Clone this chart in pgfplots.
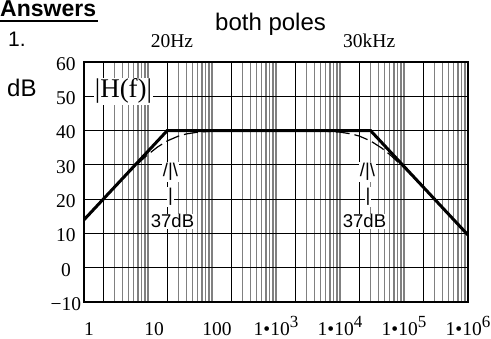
\documentclass[border=0pt]{standalone}
\usepackage{fontspec}
\setmainfont{Liberation Serif}
\newfontfamily\arial{Liberation Sans}
\usepackage{pgfplots}
\pgfplotsset{compat=1.18}
\newcommand\sups[1]{\raisebox{8bp}{\fontsize{17bp}{17bp}\selectfont #1}}
\begin{document}
\begin{tikzpicture}
\path[use as bounding box] (-84bp,-37bp) rectangle (407bp,302bp);
\begin{axis}[
  at={(0,0)}, anchor=south west, scale only axis,
  width=384bp, height=240bp,
  xmode=log, xmin=1, xmax=1e6, ymin=-10, ymax=60,
  axis line style={line width=1.6bp},
  major tick length=0pt, minor tick length=0pt,
  xtick={1,10,100,1000,10000,100000,1000000},
  xticklabels={\hspace*{10bp}1, \hspace*{12bp}10, \hspace*{10bp}100, 1•10\sups{3}, 1•10\sups{4}, 1•10\sups{5}, 1•10\sups{6}},
  xticklabel style={anchor=base, inner sep=0pt, yshift=-33bp, font=\fontsize{19.5bp}{19.5bp}\selectfont},
  ytick={-10,0,10,20,30,40,50,60},
  yticklabels={−10,0,10,20,30,40,50,60},
  yticklabel style={anchor=center, xshift=-18bp, yshift=-2bp, font=\fontsize{19.5bp}{19.5bp}\selectfont},
  ymajorgrids=true, xmajorgrids=false,
  major grid style={black, line width=0.8bp},
  minor xtick={3,4,5,6,7,8,9,10,30,40,50,60,70,80,90,100,300,400,500,600,700,800,900,1000,3000,4000,5000,6000,7000,8000,9000,10000,30000,40000,50000,60000,70000,80000,90000,100000,300000,400000,500000,600000,700000,800000,900000},
  xminorgrids=true,
  minor grid style={black!50, line width=1.2bp},
  extra x ticks={2,20,200,2000,20000,200000},
  extra x tick labels={},
  extra x tick style={grid=major},
]
\addplot[black, line width=3bp] coordinates {(1,13.98) (20,40) (30000,40) (1000000,9.54)};
\addplot[black, line width=1.2bp, dash pattern=on 14bp off 5bp] coordinates {
(1,13.97) (2,19.96) (4,25.85) (6,29.17) (8,31.40) (10,33.01) (14,35.17) (20,36.99) (30,38.40) (40,39.03) (60,39.54) (100,39.83) (200,39.96) (1000,40) (5000,39.88) (10000,39.54) (15000,39.03) (20000,38.40) (30000,36.99) (45000,34.88) (60000,33.01) (100000,29.17) (200000,23.43) (500000,15.55) (1000000,9.54)};
\end{axis}
\node[anchor=base west, inner sep=0, font=\arial\bfseries\fontsize{23bp}{23bp}\selectfont] at (-84bp,285bp) {Answers};
\draw[line width=2bp] (-84bp,281bp) -- (14bp,281bp);
\node[anchor=base west, inner sep=0, font=\arial\fontsize{21bp}{21bp}\selectfont] at (-76bp,255bp) {1.};
\node[anchor=base west, inner sep=0, font=\arial\fontsize{24bp}{24bp}\selectfont] at (-77bp,205bp) {dB};
\node[anchor=base, inner sep=0, font=\fontsize{19.5bp}{19.5bp}\selectfont] at (88bp,254bp) {20Hz};
\node[anchor=base west, inner sep=0, font=\arial\fontsize{24bp}{24bp}\selectfont] at (131bp,271bp) {both poles};
\node[anchor=base west, inner sep=0, font=\fontsize{19.5bp}{19.5bp}\selectfont] at (259bp,254bp) {30kHz};
\node[anchor=base, fill=white, inner sep=1bp, font=\fontsize{27bp}{27bp}\selectfont] at (39.5bp,204bp) {|H(f)|};
\begin{scope}[every node/.style={fill=white, inner sep=1bp, font=\arial\fontsize{18.5bp}{18.5bp}\selectfont}]
\node at (86.5bp,130bp) {/|\textbackslash};
\node at (86.5bp,105bp) {|};
\node[anchor=base] at (88.5bp,74bp) {37dB};
\node at (283.5bp,130bp) {/|\textbackslash};
\node at (284bp,105bp) {|};
\node[anchor=base] at (280.5bp,74bp) {37dB};
\end{scope}
\end{tikzpicture}
\end{document}
